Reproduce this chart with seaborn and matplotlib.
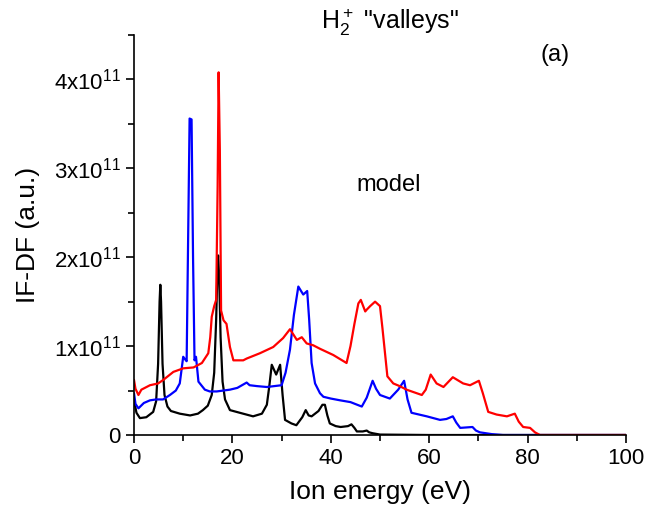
import numpy as np
import pandas as pd
import matplotlib
matplotlib.use('Agg')
import matplotlib.pyplot as plt
import seaborn as sns
from matplotlib.ticker import MultipleLocator, FuncFormatter

# ── Data (energy in eV, IF-DF in units of 1e11) ────────────────────────────────
black_e = [0, 0.5, 1.2, 2.5, 3.9, 4.5, 4.9, 5.2, 5.35, 5.5, 5.8, 6.2, 6.8, 7.5, 9.3,
           11.4, 13, 14, 15, 15.8, 16.3, 16.7, 17.0, 17.1, 17.3, 17.6, 18.0, 18.5,
           19.5, 21.5, 24.2, 26, 27, 27.5, 28, 28.9, 29.7, 30.2, 30.7, 32, 33, 34.2,
           34.9, 35.5, 36.1, 37.5, 38.3, 38.8, 39.3, 39.8, 41, 42, 43.5, 44.2, 44.8,
           45.3, 46.5, 47.3, 47.8, 48.5, 50, 60, 100]
black_v = [0.39, 0.25, 0.19, 0.2, 0.26, 0.38, 0.8, 1.5, 1.69, 1.5, 0.8, 0.45, 0.32,
           0.27, 0.24, 0.22, 0.24, 0.28, 0.33, 0.45, 0.7, 1.3, 1.95, 2.02, 1.8, 1.1,
           0.6, 0.4, 0.28, 0.25, 0.21, 0.24, 0.34, 0.55, 0.79, 0.68, 0.79, 0.45, 0.17,
           0.13, 0.11, 0.2, 0.28, 0.22, 0.21, 0.27, 0.34, 0.34, 0.22, 0.13, 0.1, 0.09,
           0.1, 0.12, 0.08, 0.04, 0.04, 0.05, 0.03, 0.02, 0.005, 0, 0]

blue_e = [0, 0.3, 0.9, 2, 3.25, 4.5, 5.9, 7.3, 8.5, 9.3, 9.7, 10, 10.4, 10.7, 11.0,
          11.3, 11.7, 12.0, 12.3, 12.6, 13.1, 14.4, 15.4, 16.8, 19.5, 21, 22.9, 23.5,
          25, 27, 30, 30.8, 31.7, 32.5, 33.4, 34.4, 35.2, 35.6, 36.1, 36.8, 37.8, 38.5,
          40, 41.9, 44, 46.3, 47.3, 48.5, 49.2, 50, 52, 53.7, 54.9, 55.6, 56.4, 59.5,
          62.2, 63.5, 64.8, 65.5, 66.3, 68.8, 69.5, 70.3, 72.7, 75, 100]
blue_v = [0.47, 0.35, 0.30, 0.36, 0.39, 0.40, 0.40, 0.45, 0.50, 0.58, 0.75, 0.88,
          0.85, 0.83, 2.2, 3.56, 3.55, 2.0, 0.84, 0.88, 0.60, 0.51, 0.49, 0.49, 0.51,
          0.53, 0.59, 0.56, 0.55, 0.54, 0.56, 0.7, 0.96, 1.35, 1.67, 1.58, 1.62, 1.3,
          0.81, 0.58, 0.47, 0.43, 0.41, 0.39, 0.37, 0.32, 0.42, 0.61, 0.52, 0.45, 0.41,
          0.51, 0.61, 0.4, 0.25, 0.21, 0.17, 0.18, 0.21, 0.14, 0.08, 0.09, 0.05, 0.03,
          0.01, 0, 0]

red_e = [0, 0.3, 0.9, 1.5, 3.25, 4.9, 5.96, 8, 10, 12.1, 13.8, 15.1, 15.5, 15.8, 16.3,
         16.7, 17.0, 17.2, 17.45, 17.7, 18.2, 18.8, 19.5, 20.2, 22.2, 22.9, 25.6, 28.3,
         30.3, 31.7, 33.1, 34.1, 35.1, 36.4, 37.8, 40.5, 43.2, 44.0, 44.8, 45.6, 46.1,
         47.0, 47.3, 48.0, 49, 50, 50.5, 51.5, 52.7, 54, 55.4, 58.5, 59.3, 60.3, 61.5,
         62.9, 64.8, 66.9, 68.3, 70.1, 70.9, 72, 73.7, 75.8, 77.4, 78.2, 79.1, 80.5,
         81.5, 82.5, 100]
red_v = [0.62, 0.52, 0.45, 0.51, 0.56, 0.58, 0.62, 0.71, 0.75, 0.76, 0.81, 0.92, 1.1,
         1.33, 1.45, 1.52, 2.8, 4.08, 3.2, 1.4, 1.29, 1.25, 0.99, 0.84, 0.84, 0.86,
         0.92, 0.99, 1.09, 1.19, 1.07, 1.10, 1.03, 1.01, 0.97, 0.90, 0.81, 1.0, 1.25,
         1.48, 1.52, 1.39, 1.41, 1.45, 1.50, 1.45, 1.2, 0.66, 0.58, 0.55, 0.51, 0.45,
         0.51, 0.68, 0.58, 0.54, 0.65, 0.58, 0.56, 0.61, 0.47, 0.26, 0.23, 0.21, 0.24,
         0.15, 0.09, 0.08, 0.03, 0, 0]

SCALE = 1e11

# ── Style ─────────────────────────────────────────────────────────────────────
sns.set_style('ticks')
plt.rcParams['font.family'] = ['Liberation Sans', 'DejaVu Sans']
plt.rcParams['mathtext.default'] = 'regular'
plt.rcParams['text.color'] = 'black'
plt.rcParams['axes.labelcolor'] = 'black'
plt.rcParams['axes.edgecolor'] = 'black'

fig = plt.figure(figsize=(6.46, 5.19), dpi=100)
ax = fig.add_axes([134 / 646, 1 - 435 / 519, 492 / 646, 400 / 519])

series = [(black_e, black_v, 'black'), (blue_e, blue_v, '#0000ff'), (red_e, red_v, '#ff0000')]
for e, v, c in series:
    df = pd.DataFrame({'E': e, 'V': np.array(v) * SCALE})
    sns.lineplot(data=df, x='E', y='V', color=c, lw=1.6, estimator=None, ax=ax)

ax.set_xlim(0, 100)
ax.set_ylim(0, 4.5 * SCALE)
ax.xaxis.set_major_locator(MultipleLocator(20))
ax.xaxis.set_minor_locator(MultipleLocator(10))
ax.yaxis.set_major_locator(MultipleLocator(SCALE))
ax.yaxis.set_minor_locator(MultipleLocator(0.5 * SCALE))

def yfmt(val, pos):
    n = int(round(val / SCALE))
    return '0' if n == 0 else f'{n}x10$^{{11}}$'

ax.yaxis.set_major_formatter(FuncFormatter(yfmt))
ax.tick_params(which='major', direction='out', length=6, width=1.2, labelsize=16,
               colors='black', labelcolor='black')
ax.tick_params(which='minor', direction='out', length=4, width=1.2, colors='black')
for s in ['left', 'bottom']:
    ax.spines[s].set_linewidth(1.2)
    ax.spines[s].set_color('black')
sns.despine(ax=ax)

ax.set_xlabel('Ion energy (eV)', fontsize=19, labelpad=8, color='black')
ax.set_ylabel('IF-DF (a.u.)', fontsize=19, labelpad=10, color='black')

fig.text(390 / 646, 1 - 22 / 519, 'H$_2^+$ "valleys"', fontsize=18, ha='center', va='center')
fig.text(555 / 646, 1 - 55 / 519, '(a)', fontsize=17, ha='center', va='center')
fig.text(389 / 646, 1 - 185 / 519, 'model', fontsize=17, ha='center', va='center')

fig.savefig('out.png', dpi=100)
